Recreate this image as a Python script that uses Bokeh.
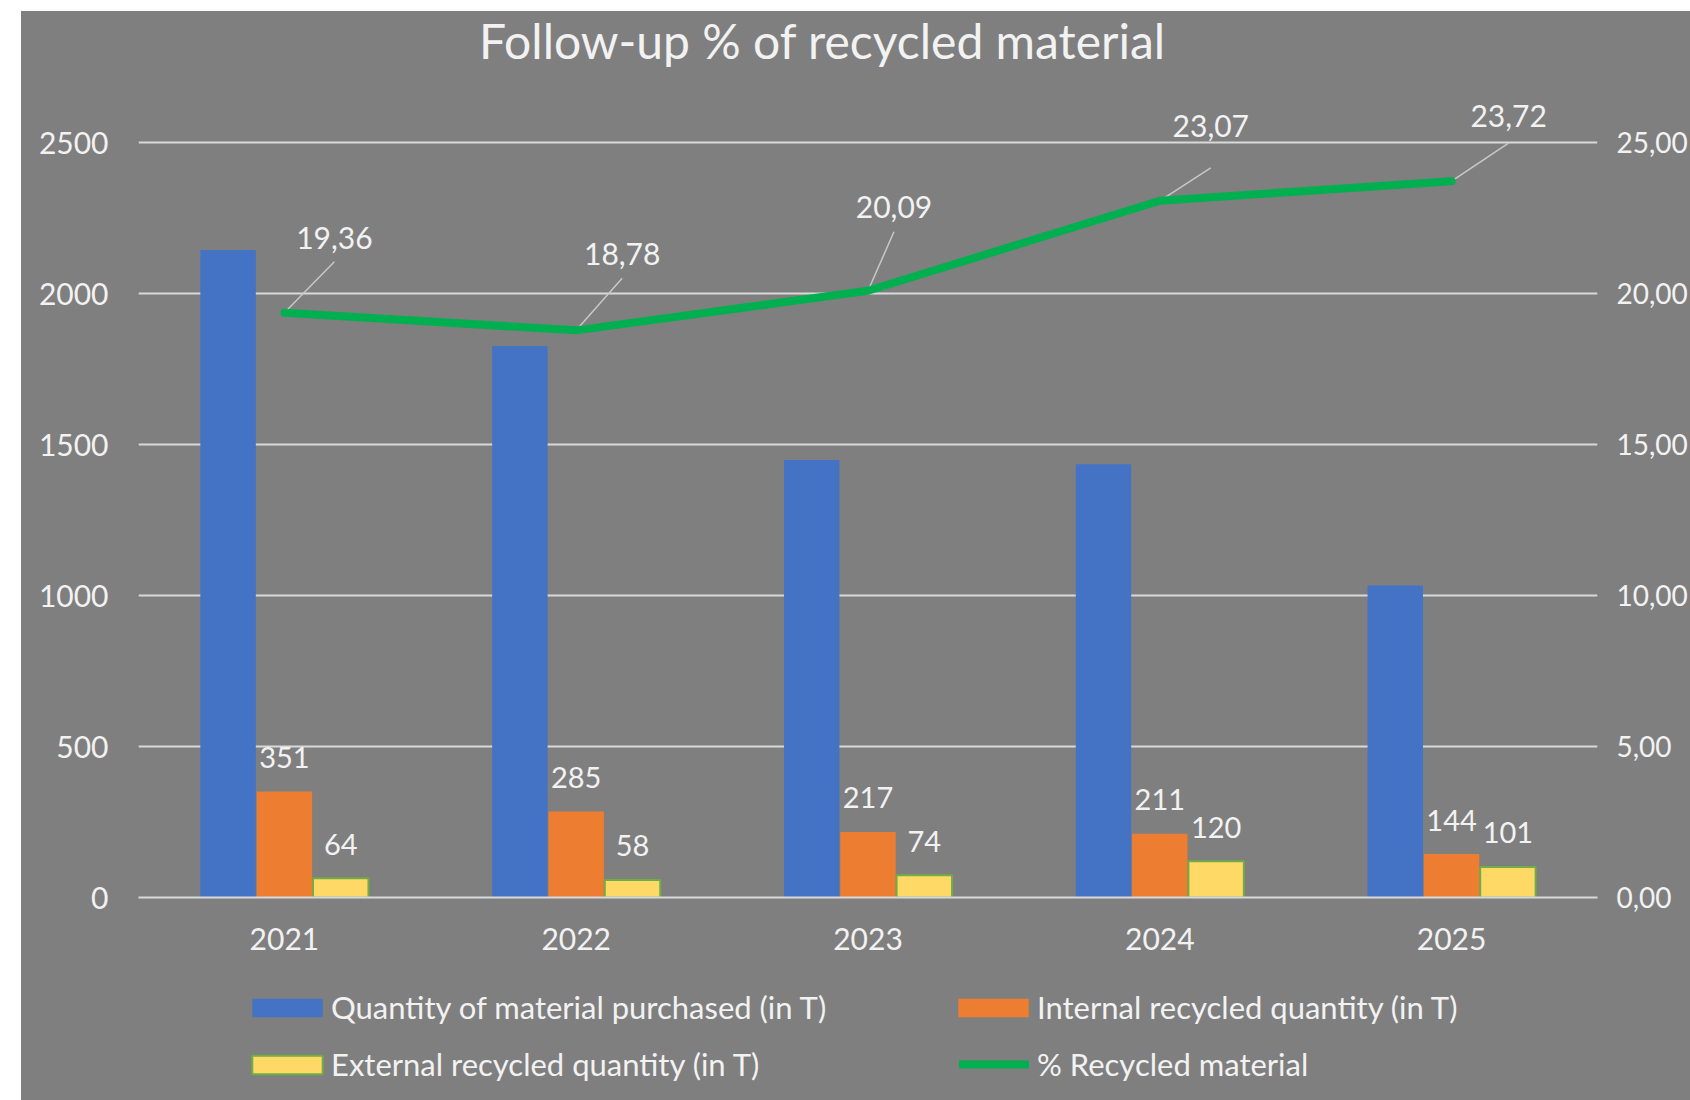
from bokeh.plotting import figure
from bokeh.layouts import column
from bokeh.models import (Range1d, LinearAxis, FixedTicker, CustomJSTickFormatter,
                          Legend, LegendItem, ColumnDataSource, LabelSet, Label)
from bokeh.transform import dodge
from bokeh.embed import file_html
from bokeh.resources import INLINE
from bokeh.core.properties import value

# ---------------- data ----------------
years = ["2021", "2022", "2023", "2024", "2025"]
purchased = [2144, 1826, 1449, 1435, 1033]
internal = [351, 285, 217, 211, 144]
external = [64, 58, 74, 120, 101]
pct_recycled = [19.36, 18.78, 20.09, 23.07, 23.72]
left_ticks = [0, 500, 1000, 1500, 2000, 2500]
right_ticks = [0, 5, 10, 15, 20, 25]
series_names = ["Quantity of material purchased (in T)",
                "Internal recycled quantity (in T)",
                "External recycled quantity (in T)",
                "% Recycled material"]
title_text = "Follow-up % of recycled material"

# ---------------- style ----------------
FONT = "Lato"
BG = "#7F7F7F"
TXT = "#F2F2F2"
GRID = "#D9D9D9"
BLUE, ORANGE, YELLOW, GREEN, YEL_EDGE = "#4472C4", "#ED7D31", "#FFD966", "#00B050", "#70AD47"

W, H = 1669, 964
ML, MR, MT, MB = 117, 91, 0, 78
FW, FH = W - ML - MR, H - MT - MB
PLOT_H = 755.0                      # pixel height of the 0..2500 band
LEFT_MAX, RIGHT_MAX = 2500, 25
Y_TOP = LEFT_MAX * FH / PLOT_H      # frame extends above the axis maximum (room for labels/title)
R_TOP = RIGHT_MAX * FH / PLOT_H
PX_X = FW / 5.0
PX_L = PLOT_H / LEFT_MAX
PX_R = PLOT_H / RIGHT_MAX

# label offsets for the % labels (pixels: dx, dy up) and leader gap below label
lab_dx = [50, 46, 26, 51, 57]
lab_dy = [75, 76, 84, 75, 65]
lead_gap = [24, 24, 25, 42, 27]

xs = list(range(len(years)))
src = ColumnDataSource(dict(
    x=xs, purchased=purchased, internal=internal, external=external, pct=pct_recycled,
    ilab=[str(v) for v in internal], elab=[str(v) for v in external],
    plab=[f"{v:.2f}".replace(".", ",") for v in pct_recycled],
    ldx=lab_dx, ldy=lab_dy,
    lx1=[x + dx / PX_X for x, dx in zip(xs, lab_dx)],
    ly1=[v + (dy - g) / PX_R for v, dy, g in zip(pct_recycled, lab_dy, lead_gap)],
))

p = figure(width=W, height=H, output_backend="svg", toolbar_location=None, title=None,
           x_range=Range1d(-0.5, 4.5), y_range=Range1d(0, Y_TOP),
           min_border_left=ML, min_border_right=MR, min_border_top=MT, min_border_bottom=MB,
           background_fill_color=None, border_fill_color=None, outline_line_color=None,
           styles={"background-color": BG})
p.extra_y_ranges = {"pct": Range1d(0, R_TOP)}

# axes
p.xaxis.ticker = FixedTicker(ticks=xs)
p.xaxis.major_label_overrides = {i: y for i, y in zip(xs, years)}
p.yaxis.ticker = FixedTicker(ticks=left_ticks)
rax = LinearAxis(y_range_name="pct", ticker=FixedTicker(ticks=right_ticks),
                 formatter=CustomJSTickFormatter(code="return tick.toFixed(2).replace('.', ',');"))
p.add_layout(rax, "right")

for ax in [p.xaxis[0], p.yaxis[0], rax]:
    ax.axis_line_color = None
    ax.major_tick_line_color = None
    ax.minor_tick_line_color = None
    ax.major_tick_out = 0
    ax.major_tick_in = 0
    ax.minor_tick_out = 0
    ax.minor_tick_in = 0
    ax.major_label_text_color = TXT
    ax.major_label_text_font = FONT
    ax.major_label_text_font_size = "30px"
rax.major_label_text_font_size = "28px"
p.xaxis.axis_line_color = GRID
p.xaxis.axis_line_width = 2
p.xaxis.major_label_standoff = 30
p.yaxis[0].major_label_standoff = 30
rax.major_label_standoff = 19

p.xgrid.grid_line_color = None
p.ygrid.grid_line_color = GRID
p.ygrid.grid_line_width = 2

# bars
BW = 0.19
OFF = 0.193
bar_styles = [dict(fill_color=BLUE, line_color=None),
              dict(fill_color=ORANGE, line_color=None),
              dict(fill_color=YELLOW, line_color=YEL_EDGE, line_width=2)]
line_style = dict(line_color=GREEN, line_width=8, line_cap="round", line_join="round")

p.vbar(x=dodge("x", -OFF), top="purchased", width=BW, source=src, **bar_styles[0])
p.vbar(x="x", top="internal", width=BW, source=src, **bar_styles[1])
p.vbar(x=dodge("x", OFF), top="external", width=BW, source=src, **bar_styles[2])

# leader lines and % line
p.segment(x0="x", y0="pct", x1="lx1", y1="ly1", source=src, y_range_name="pct",
          line_color="#C8C8C8", line_width=1.5)
p.line(x="x", y="pct", source=src, y_range_name="pct", **line_style)

# data labels
p.add_layout(LabelSet(x="x", y="internal", text="ilab", source=src, y_offset=34,
                      text_align="center", text_baseline="middle",
                      text_color=TXT, text_font=value(FONT), text_font_size="29px"))
p.add_layout(LabelSet(x=dodge("x", OFF), y="external", text="elab", source=src, y_offset=34,
                      text_align="center", text_baseline="middle",
                      text_color=TXT, text_font=value(FONT), text_font_size="29px"))
p.add_layout(LabelSet(x="x", y="pct", text="plab", source=src, y_range_name="pct",
                      x_offset="ldx", y_offset="ldy",
                      text_align="center", text_baseline="middle",
                      text_color=TXT, text_font=value(FONT), text_font_size="30px"))

# title (inside the extended frame, above the axis maximum)
p.add_layout(Label(x=(823 - 21 - ML) / PX_X - 0.5, y=LEFT_MAX + (141.7 - 40) / PX_L,
                   text=title_text, text_align="center", text_baseline="alphabetic",
                   text_color=TXT, text_font=FONT, text_font_size="48px"))

# ---------------- legend strip ----------------
LH = 1100 - 11 - H
pl = figure(width=W, height=LH, output_backend="svg", toolbar_location=None, title=None,
            x_range=Range1d(0, 1), y_range=Range1d(0, 1), x_axis_type=None, y_axis_type=None,
            min_border_left=ML, min_border_right=MR, min_border_top=0, min_border_bottom=0,
            background_fill_color=None, border_fill_color=None, outline_line_color=None,
            styles={"background-color": BG})
pl.xgrid.visible = False
pl.ygrid.visible = False
# legend proxies: no visible data, only their styles are used by the legend
nan = float("nan")
lr = [pl.vbar(x=[nan], top=[nan], width=0.1, **s) for s in bar_styles]
lr.append(pl.line(x=[nan, nan], y=[nan, nan], **line_style))

LEG_FS = "31px"
def add_legend(label, rend, x_px, y_px, gw, gh, standoff):
    lg = Legend(items=[LegendItem(label=label, renderers=[rend])], location=(x_px, y_px),
                orientation="vertical", glyph_width=gw, glyph_height=gh,
                label_standoff=standoff, padding=0, margin=0, border_line_color=None,
                background_fill_alpha=0, label_text_color=TXT, label_text_font=FONT,
                label_text_font_size=LEG_FS)
    pl.add_layout(lg, "center")

ROW1_Y, ROW2_Y = 74, 17
add_legend(series_names[0], lr[0], 105, ROW1_Y, 88, 23, 0)
add_legend(series_names[2], lr[2], 105, ROW2_Y, 88, 23, 0)
add_legend(series_names[1], lr[1], 811, ROW1_Y, 88, 23, 0)
add_legend(series_names[3], lr[3], 821, ROW2_Y, 70, 18, 8)

layout = column(p, pl, spacing=0, margin=(11, 0, 0, 21), styles={"background-color": BG})
open("out.html", "w").write(file_html(layout, INLINE))
